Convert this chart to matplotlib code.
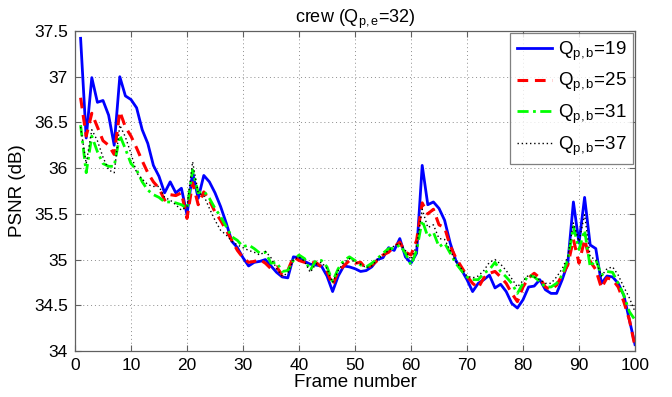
import matplotlib
matplotlib.use("Agg")
import matplotlib.pyplot as plt
import numpy as np

plt.rcParams['font.family'] = ['Liberation Sans', 'DejaVu Sans']
plt.rcParams['mathtext.fontset'] = 'custom'
plt.rcParams['mathtext.rm'] = 'Liberation Sans'
plt.rcParams['mathtext.it'] = 'Liberation Sans:italic'

frames = list(range(1, 101))

psnr_q19 = [37.42, 36.33, 36.99, 36.72, 36.74, 36.58, 36.25, 37.00, 36.79, 36.75,
            36.66, 36.42, 36.27, 36.03, 35.91, 35.73, 35.85, 35.73, 35.78, 35.49,
            35.95, 35.67, 35.92, 35.85, 35.73, 35.58, 35.40, 35.20, 35.13, 35.02,
            34.93, 34.97, 34.98, 35.00, 34.93, 34.86, 34.81, 34.80, 35.03, 35.02,
            34.98, 34.95, 34.94, 34.93, 34.82, 34.65, 34.82, 34.93, 34.92, 34.90,
            34.87, 34.88, 34.92, 35.00, 35.02, 35.13, 35.10, 35.23, 35.03, 34.96,
            35.07, 36.03, 35.60, 35.63, 35.56, 35.43, 35.18, 34.99, 34.89, 34.78,
            34.65, 34.74, 34.78, 34.83, 34.69, 34.73, 34.65, 34.52, 34.47, 34.56,
            34.70, 34.71, 34.78, 34.67, 34.63, 34.63, 34.78, 34.96, 35.63, 35.18,
            35.68, 35.16, 35.12, 34.74, 34.82, 34.81, 34.74, 34.61, 34.34, 34.07]

psnr_q25 = [36.77, 36.35, 36.60, 36.45, 36.30, 36.25, 36.15, 36.62, 36.45, 36.35,
            36.22, 36.08, 35.95, 35.85, 35.78, 35.65, 35.71, 35.70, 35.73, 35.45,
            35.84, 35.60, 35.74, 35.65, 35.52, 35.43, 35.32, 35.21, 35.10, 35.02,
            34.97, 34.98, 35.00, 34.96, 34.90, 34.92, 34.83, 34.88, 35.03, 34.99,
            34.97, 34.96, 34.97, 34.92, 34.87, 34.72, 34.87, 34.93, 34.99, 34.96,
            34.97, 34.90, 34.94, 34.99, 35.05, 35.08, 35.14, 35.19, 35.08, 35.05,
            35.21, 35.62, 35.50, 35.55, 35.38, 35.35, 35.15, 35.02, 34.92, 34.82,
            34.74, 34.69, 34.80, 34.85, 34.87, 34.81, 34.74, 34.63, 34.54, 34.70,
            34.80, 34.85, 34.80, 34.70, 34.67, 34.72, 34.83, 34.94, 35.22, 34.96,
            35.22, 34.98, 34.89, 34.69, 34.80, 34.78, 34.70, 34.54, 34.34, 34.05]

psnr_q31 = [36.47, 35.95, 36.35, 36.18, 36.05, 36.02, 36.02, 36.36, 36.21, 36.05,
            35.98, 35.85, 35.76, 35.71, 35.68, 35.63, 35.63, 35.62, 35.60, 35.56,
            35.98, 35.73, 35.75, 35.67, 35.56, 35.47, 35.36, 35.25, 35.21, 35.14,
            35.16, 35.12, 35.07, 35.08, 34.96, 34.97, 34.87, 34.88, 34.99, 35.05,
            35.01, 34.88, 34.99, 34.99, 34.92, 34.76, 34.90, 34.99, 35.03, 34.99,
            34.94, 34.92, 34.96, 35.01, 35.07, 35.12, 35.12, 35.16, 35.07, 34.94,
            35.10, 35.43, 35.25, 35.30, 35.14, 35.18, 35.07, 34.96, 34.88, 34.81,
            34.78, 34.78, 34.85, 34.89, 34.97, 34.87, 34.81, 34.74, 34.63, 34.74,
            34.83, 34.81, 34.76, 34.70, 34.70, 34.74, 34.83, 35.00, 35.36, 35.11,
            35.32, 34.92, 35.00, 34.83, 34.87, 34.86, 34.74, 34.61, 34.43, 34.34]

psnr_q37 = [36.45, 36.05, 36.42, 36.30, 36.12, 35.98, 35.95, 36.47, 36.34, 36.16,
            35.95, 35.88, 35.82, 35.80, 35.80, 35.68, 35.65, 35.60, 35.54, 35.58,
            36.07, 35.73, 35.70, 35.56, 35.43, 35.32, 35.27, 35.20, 35.16, 35.13,
            35.10, 35.08, 35.05, 35.09, 35.02, 34.90, 34.82, 34.85, 35.00, 35.03,
            34.98, 34.86, 34.95, 34.97, 34.90, 34.75, 34.88, 34.97, 35.01, 34.97,
            34.95, 34.91, 34.93, 35.00, 35.05, 35.10, 35.15, 35.18, 35.10, 35.00,
            35.15, 35.55, 35.35, 35.38, 35.23, 35.22, 35.10, 34.98, 34.90, 34.82,
            34.80, 34.82, 34.88, 34.97, 35.00, 34.95, 34.88, 34.79, 34.70, 34.77,
            34.83, 34.81, 34.78, 34.74, 34.74, 34.81, 34.90, 35.03, 35.40, 35.20,
            35.49, 35.03, 35.00, 34.82, 34.90, 34.92, 34.83, 34.70, 34.58, 34.43]

series_labels = [r'Q$_{\mathrm{p,b}}$=19', r'Q$_{\mathrm{p,b}}$=25',
                 r'Q$_{\mathrm{p,b}}$=31', r'Q$_{\mathrm{p,b}}$=37']
x_ticks = list(range(0, 101, 10))
y_ticks = [34, 34.5, 35, 35.5, 36, 36.5, 37, 37.5]
y_tick_labels = ['34', '34.5', '35', '35.5', '36', '36.5', '37', '37.5']

fig = plt.figure(figsize=(6.72, 3.97), dpi=100)
ax = fig.add_axes([75 / 672, 46 / 397, 560 / 672, 320 / 397])

ax.plot(frames, psnr_q19, color='#0000ff', linestyle='-', linewidth=2.0,
        label=series_labels[0])
ax.plot(frames, psnr_q25, color='#ff0000', linestyle=(0, (3.5, 2.2)), linewidth=2.2,
        label=series_labels[1])
ax.plot(frames, psnr_q31, color='#00ff00', linestyle=(0, (4, 1.6, 1, 1.6)), linewidth=2.0,
        label=series_labels[2])
ax.plot(frames, psnr_q37, color='#000000', linestyle=(0, (1, 2)), linewidth=1.0,
        label=series_labels[3])

ax.set_xlim(0, 100)
ax.set_ylim(34, 37.5)
ax.set_xticks(x_ticks)
ax.set_yticks(y_ticks)
ax.set_yticklabels(y_tick_labels)

ax.grid(True, color='#8c8c8c', linestyle=(0, (1, 3)), linewidth=0.7)
ax.tick_params(direction='in', top=True, right=True, length=4, width=0.8,
               color='#606060', labelsize=12.5, pad=5)
for s in ax.spines.values():
    s.set_color('#606060')
    s.set_linewidth(0.9)

ax.set_xlabel('Frame number', fontsize=13.5, labelpad=1)
ax.set_ylabel('PSNR (dB)', fontsize=13.5, labelpad=6)
ax.set_title(r'crew (Q$_{\mathrm{p,e}}$=32)', fontsize=13, pad=6)

leg = ax.legend(loc='upper right', fontsize=13.5, frameon=True, fancybox=False,
                handlelength=1.9, handletextpad=0.3, borderpad=0.35,
                labelspacing=0.45, borderaxespad=0.1)
leg.get_frame().set_edgecolor('#606060')
leg.get_frame().set_linewidth(0.9)

fig.savefig('out.png', dpi=100)
